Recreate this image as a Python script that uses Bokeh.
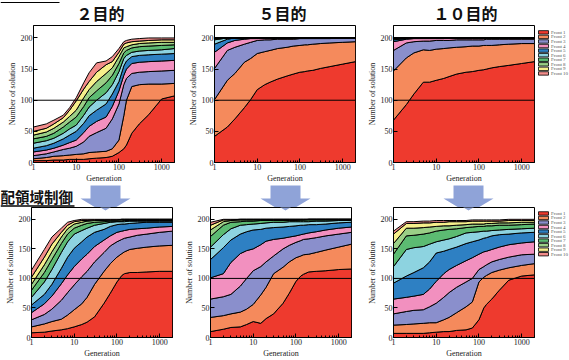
from bokeh.plotting import figure
from bokeh.layouts import row, column
from bokeh.models import Span, PolyAnnotation, Range1d, FixedTicker, NumeralTickFormatter
from bokeh.core.properties import value
from bokeh.embed import file_html
from bokeh.resources import INLINE

# ---------------- data ----------------
generations = [1, 2, 3, 5, 7, 10, 15, 20, 30, 50, 70, 100, 130, 150, 200, 300, 500, 1000, 2000]
front_names = ["Front 1", "Front 2", "Front 3", "Front 4", "Front 5",
               "Front 6", "Front 7", "Front 8", "Front 9", "Front 10"]
front_colors = ["#ee3a2e", "#f58a5c", "#8a8fcc", "#f290bf", "#2e80c3",
                "#8dd3e0", "#5cbb72", "#9acf86", "#f6ef8b", "#f28c8a"]
panel_titles = ["２目的", "５目的", "１０目的"]
method_label = "配領域制御"
x_label = "Generation"
y_label = "Number of solution"
y_ticks = [0, 50, 100, 150, 200]

# cumulative upper boundary of each front (Front 1 ... Front 10)
fronts_2obj_top = [
    [3, 3, 4, 4, 5, 5, 5, 6, 7, 8, 10, 16, 22, 28, 47, 62, 77, 102, 107],
    [6, 8, 10, 11, 12, 13, 14, 16, 17, 18, 22, 36, 75, 100, 122, 125, 126, 126, 127],
    [11, 14, 17, 21, 23, 26, 33, 42, 48, 55, 70, 94, 125, 135, 143, 145, 146, 147, 148],
    [17, 20, 23, 28, 32, 36, 48, 58, 66, 73, 90, 115, 140, 150, 159, 161, 162, 163, 164],
    [23, 27, 31, 38, 44, 50, 63, 75, 84, 94, 110, 130, 155, 163, 170, 172, 173, 174, 175],
    [31, 35, 39, 47, 54, 60, 76, 89, 100, 112, 125, 146, 167, 172, 177, 179, 180, 181, 183],
    [38, 42, 47, 57, 65, 73, 90, 104, 115, 128, 140, 159, 176, 180, 184, 186, 187, 188, 189],
    [44, 49, 55, 65, 74, 84, 104, 117, 130, 143, 152, 170, 184, 186, 189, 191, 192, 193, 193],
    [50, 55, 62, 72, 84, 99, 118, 130, 145, 157, 162, 177, 190, 192, 194, 195, 196, 197, 197],
    [57, 62, 68, 76, 88, 104, 128, 144, 160, 163, 170, 183, 194, 196, 198, 199, 200, 200, 200],
]
fronts_5obj_top = [
    [42, 57, 70, 88, 101, 117, 125, 129, 134, 139, 142, 145, 146, 147, 148, 151, 154, 158, 162],
    [101, 132, 143, 161, 167, 175, 178, 180, 183, 185, 187, 188, 189, 189, 190, 191, 192, 193, 194],
    [151, 180, 185, 190, 193, 196, 197, 197, 198, 198, 198, 199, 199, 199, 199, 199, 199, 200, 200],
    [177, 192, 196, 198, 199, 199, 200, 200, 200, 200, 200, 200, 200, 200, 200, 200, 200, 200, 200],
    [190, 198, 200, 200, 200, 200, 200, 200, 200, 200, 200, 200, 200, 200, 200, 200, 200, 200, 200],
    [197, 200, 200, 200, 200, 200, 200, 200, 200, 200, 200, 200, 200, 200, 200, 200, 200, 200, 200],
    [199, 200, 200, 200, 200, 200, 200, 200, 200, 200, 200, 200, 200, 200, 200, 200, 200, 200, 200],
    [200, 200, 200, 200, 200, 200, 200, 200, 200, 200, 200, 200, 200, 200, 200, 200, 200, 200, 200],
    [200, 200, 200, 200, 200, 200, 200, 200, 200, 200, 200, 200, 200, 200, 200, 200, 200, 200, 200],
    [200, 200, 200, 200, 200, 200, 200, 200, 200, 200, 200, 200, 200, 200, 200, 200, 200, 200, 200],
]
fronts_10obj_top = [
    [68, 93, 110, 129, 129, 132, 135, 138, 142, 145, 146, 148, 149, 150, 152, 154, 156, 159, 162],
    [147, 168, 176, 181, 180, 182, 183, 184, 185, 186, 187, 187, 188, 188, 188, 189, 190, 191, 191],
    [180, 192, 194, 195, 195, 196, 196, 196, 197, 197, 197, 197, 197, 198, 198, 198, 198, 198, 198],
    [194, 198, 199, 199, 199, 199, 199, 200, 200, 200, 200, 200, 200, 200, 200, 200, 200, 200, 200],
    [197, 199, 200, 200, 200, 200, 200, 200, 200, 200, 200, 200, 200, 200, 200, 200, 200, 200, 200],
    [198, 200, 200, 200, 200, 200, 200, 200, 200, 200, 200, 200, 200, 200, 200, 200, 200, 200, 200],
    [199, 200, 200, 200, 200, 200, 200, 200, 200, 200, 200, 200, 200, 200, 200, 200, 200, 200, 200],
    [200, 200, 200, 200, 200, 200, 200, 200, 200, 200, 200, 200, 200, 200, 200, 200, 200, 200, 200],
    [200, 200, 200, 200, 200, 200, 200, 200, 200, 200, 200, 200, 200, 200, 200, 200, 200, 200, 200],
    [200, 200, 200, 200, 200, 200, 200, 200, 200, 200, 200, 200, 200, 200, 200, 200, 200, 200, 200],
]
cdas_2obj_top = [
    [8, 9, 11, 13, 15, 18, 22, 26, 35, 58, 75, 94, 105, 108, 110, 110, 111, 112, 112],
    [18, 23, 27, 31, 38, 47, 57, 68, 90, 112, 125, 136, 142, 145, 149, 151, 153, 155, 156],
    [30, 39, 48, 63, 76, 89, 103, 112, 128, 144, 155, 162, 166, 168, 170, 173, 175, 178, 180],
    [42, 57, 70, 91, 106, 120, 133, 141, 154, 165, 172, 178, 180, 181, 183, 184, 185, 187, 188],
    [55, 73, 90, 117, 136, 151, 162, 170, 178, 183, 188, 191, 192, 192, 193, 194, 195, 195, 195],
    [68, 94, 115, 144, 162, 175, 181, 185, 190, 193, 195, 196, 196, 196, 197, 197, 197, 197, 197],
    [80, 110, 132, 159, 175, 185, 190, 193, 195, 196, 197, 197, 197, 198, 198, 198, 198, 198, 198],
    [90, 123, 145, 170, 184, 192, 195, 197, 198, 198, 199, 199, 199, 199, 199, 199, 199, 199, 199],
    [102, 136, 158, 178, 190, 196, 198, 198, 199, 199, 199, 199, 200, 200, 200, 200, 200, 200, 200],
    [114, 149, 170, 185, 195, 198, 200, 200, 200, 200, 200, 200, 200, 200, 200, 200, 200, 200, 200],
]
cdas_5obj_top = [
    [10, 14, 17, 18, 22, 27, 24, 32, 40, 58, 75, 95, 104, 107, 111, 112, 113, 115, 116],
    [34, 37, 40, 43, 48, 56, 72, 85, 108, 119, 128, 135, 138, 140, 141, 144, 148, 153, 158],
    [65, 69, 73, 87, 100, 113, 120, 128, 138, 150, 156, 161, 164, 166, 167, 169, 172, 175, 178],
    [101, 108, 127, 142, 147, 150, 157, 163, 166, 168, 170, 172, 174, 175, 177, 179, 182, 185, 187],
    [132, 152, 165, 175, 179, 182, 183, 185, 186, 187, 188, 189, 190, 190, 191, 191, 192, 194, 195],
    [153, 174, 184, 190, 191, 192, 193, 194, 195, 195, 196, 196, 196, 196, 196, 197, 197, 198, 198],
    [171, 190, 195, 196, 197, 197, 198, 198, 198, 198, 198, 198, 199, 199, 199, 199, 199, 199, 199],
    [182, 196, 198, 199, 199, 199, 199, 199, 199, 199, 199, 199, 199, 199, 200, 200, 200, 200, 200],
    [190, 199, 199, 200, 200, 200, 200, 200, 200, 200, 200, 200, 200, 200, 200, 200, 200, 200, 200],
    [195, 200, 200, 200, 200, 200, 200, 200, 200, 200, 200, 200, 200, 200, 200, 200, 200, 200, 200],
]
cdas_10obj_top = [
    [7, 7, 7, 7, 8, 9, 10, 10, 12, 13, 16, 30, 50, 56, 65, 80, 97, 104, 106],
    [21, 22, 23, 24, 25, 25, 30, 34, 42, 52, 60, 94, 102, 105, 110, 114, 118, 122, 125],
    [40, 44, 46, 47, 52, 58, 68, 76, 85, 94, 100, 115, 120, 123, 128, 132, 136, 140, 141],
    [65, 68, 70, 73, 82, 95, 108, 115, 122, 130, 135, 141, 145, 146, 149, 153, 157, 160, 162],
    [92, 104, 110, 118, 128, 143, 146, 149, 153, 159, 162, 165, 168, 169, 172, 174, 175, 177, 178],
    [120, 149, 152, 154, 158, 162, 165, 167, 171, 177, 178, 179, 180, 180, 181, 182, 183, 184, 185],
    [141, 172, 173, 175, 177, 180, 182, 183, 184, 186, 187, 188, 188, 189, 189, 190, 190, 191, 192],
    [159, 185, 185, 186, 187, 188, 189, 189, 190, 191, 192, 192, 192, 193, 193, 194, 194, 195, 195],
    [175, 193, 193, 194, 194, 195, 195, 196, 196, 196, 197, 197, 197, 197, 197, 197, 198, 198, 198],
    [180, 196, 196, 197, 197, 198, 198, 198, 198, 198, 199, 199, 199, 199, 199, 199, 200, 200, 200],
]

# ---------------- styling / layout constants ----------------
SERIF = "Liberation Serif"
CJK = "Noto Sans CJK JP"
ARROW_COLOR = "#8fa3d8"
W = 569
TOP_BAND_H = 25
ROW1_H = 160      # frame 138 + bottom 22
MID_BAND_H = 22
ROW2_H = 153      # frame 133 + bottom 20
ROW2_FRAME_H = 133
LEGEND_W = 34


def arrow_shape(cx, y_top, y_neck, y_tip, body_hw=15, head_hw=25):
    xs = [cx - body_hw, cx + body_hw, cx + body_hw, cx + head_hw, cx, cx - head_hw, cx - body_hw]
    ys = [y_top, y_top, y_neck, y_neck, y_tip, y_neck, y_neck]
    return xs, ys


def make_panel(fronts, width, height, b_left, b_right, b_bottom):
    p = figure(width=width, height=height, x_axis_type="log", x_range=(1, 2000), y_range=(0, 220),
               output_backend="svg", toolbar_location=None,
               min_border_left=b_left, min_border_right=b_right,
               min_border_top=0, min_border_bottom=b_bottom)
    p.background_fill_color = "white"
    p.border_fill_color = "white"
    p.outline_line_color = "black"
    p.outline_line_width = 1
    p.xgrid.visible = False
    p.ygrid.visible = False

    lower = [0] * len(generations)
    for color, upper in zip(front_colors, fronts):
        xs = generations + generations[::-1]
        ys = list(upper) + lower[::-1]
        p.patch(xs, ys, fill_color=color, line_color="black", line_width=1)
        lower = list(upper)

    p.add_layout(Span(location=100, dimension="width", line_color="black", line_width=1))

    xa = p.xaxis[0]
    ya = p.yaxis[0]
    xa.ticker = FixedTicker(ticks=[1, 10, 100, 1000],
                            minor_ticks=[m * 10 ** e for e in range(4) for m in range(2, 10)])
    xa.formatter = NumeralTickFormatter(format="0")
    ya.ticker = FixedTicker(ticks=y_ticks)
    for ax in (xa, ya):
        ax.axis_line_color = "black"
        ax.major_tick_in = 4
        ax.major_tick_out = 0
        ax.minor_tick_in = 2
        ax.minor_tick_out = 0
        ax.major_tick_line_color = "black"
        ax.minor_tick_line_color = "black"
        ax.major_label_text_font = SERIF
        ax.major_label_text_font_size = "8px"
        ax.major_label_text_color = "#222222"
        ax.major_label_standoff = 1
        ax.axis_label_text_font = SERIF
        ax.axis_label_text_font_size = "8px"
        ax.axis_label_text_font_style = "normal"
        ax.axis_label_text_color = "#222222"
        ax.axis_label_standoff = 1
    ya.axis_label = y_label
    xa.axis_label = x_label
    return p


def band(width, height, y_top_page, x_left_page=0):
    b = figure(width=width, height=height, x_range=Range1d(x_left_page, x_left_page + width),
               y_range=Range1d(y_top_page + height, y_top_page),
               output_backend="svg", toolbar_location=None, min_border=0,
               x_axis_location=None, y_axis_location=None)
    b.grid.visible = False
    b.outline_line_color = None
    b.background_fill_color = "white"
    b.border_fill_color = "white"
    return b


def legend_box(height, y_top_page, first_center):
    x0 = W - LEGEND_W
    lb = band(LEGEND_W, height, y_top_page, x0)
    step = 5.33
    centers = [first_center + step * i for i in range(len(front_names))]
    lb.quad(left=[538] * 10, right=[548] * 10, top=[c - 2 for c in centers],
            bottom=[c + 2 for c in centers], fill_color=front_colors,
            line_color="black", line_width=0.8)
    lb.text(x=[550.5] * 10, y=centers, text=front_names, text_font=value(SERIF),
            text_font_size="5px", text_color="#555555", text_align="left", text_baseline="middle")
    return lb


# top band: titles and the short rule at the top-left
top_band = band(W, TOP_BAND_H, 0)
top_band.line([0, 59], [2, 2], line_color="black", line_width=1.2)
top_band.text(x=[100, 282, 465], y=[12.5, 12.5, 12.5], text=panel_titles,
              text_font=value(CJK), text_font_size="16px", text_font_style="bold",
              text_color="#111111", text_align="center", text_baseline="middle")

# top row
f1 = make_panel(fronts_2obj_top, 181, ROW1_H, 33, 7, 22)
f2 = make_panel(fronts_5obj_top, 179, ROW1_H, 33, 5, 22)
f3 = make_panel(fronts_10obj_top, W - 360 - LEGEND_W, ROW1_H, 33, 1, 22)
lg1 = legend_box(ROW1_H, TOP_BAND_H, 33)

# middle band: arrows and method label
y0 = TOP_BAND_H + ROW1_H                  # 185
y_frame_top = y0 + MID_BAND_H             # 207
arrow_centers = [105, 285, 468]
mid_band = band(W, MID_BAND_H, y0)
for cx in arrow_centers:
    axs, ays = arrow_shape(cx, y0 - 1, 198, 213)
    mid_band.patch(axs, ays, fill_color=ARROW_COLOR, line_color=None)
mid_band.text(x=[0], y=[196], text=[method_label], text_font=value(CJK), text_font_size="14.5px",
              text_font_style="bold", text_color="#111111", text_align="left",
              text_baseline="middle")
mid_band.line([0, 74], [205.5, 205.5], line_color="black", line_width=1.3)

# bottom row
f4 = make_panel(cdas_2obj_top, 179, ROW2_H, 31, 7, 20)
f5 = make_panel(cdas_5obj_top, 181, ROW2_H, 31, 9, 20)
f6 = make_panel(cdas_10obj_top, W - 360 - LEGEND_W, ROW2_H, 33, 1, 20)
lg2 = legend_box(ROW2_H, y_frame_top, 214)

# arrow tips continuing into the lower frames
frame_bottom_page = y_frame_top + ROW2_FRAME_H
for p, left, cx in ((f4, 31, 105), (f5, 210, 285), (f6, 393, 468)):
    axs, ays = arrow_shape(cx, y0, 198, 213)
    p.add_layout(PolyAnnotation(
        xs=[x - left for x in axs], ys=[frame_bottom_page - y for y in ays],
        xs_units="screen", ys_units="screen",
        fill_color=ARROW_COLOR, fill_alpha=1, line_color=None, level="overlay"))

layout = column(top_band, row(f1, f2, f3, lg1), mid_band, row(f4, f5, f6, lg2))
open("out.html", "w").write(file_html(layout, INLINE))
